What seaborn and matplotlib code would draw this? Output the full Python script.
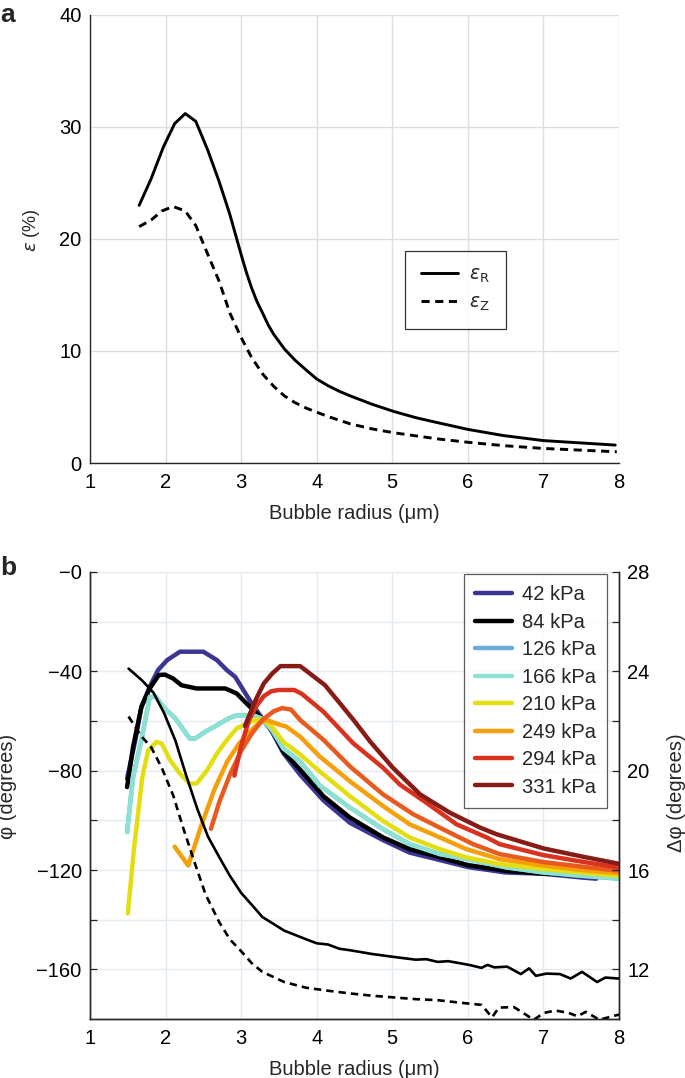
import seaborn as sns
import matplotlib.pyplot as plt

# ---- panel a : strain vs bubble radius ----
radius_r = [1.65, 1.81, 1.97, 2.12, 2.26, 2.40, 2.56, 2.71, 2.85, 3.0, 3.07, 3.14, 3.21, 3.29, 3.36,
            3.43, 3.57, 3.71, 3.86, 4.0, 4.15, 4.3, 4.44, 4.73, 5.02, 5.31, 5.6, 6.0, 6.47, 7.0, 7.95]
eps_r = [23.0, 25.4, 28.2, 30.3, 31.2, 30.5, 27.9, 25.1, 22.2, 18.6, 17.0, 15.6, 14.4, 13.3, 12.3,
         11.5, 10.2, 9.2, 8.3, 7.5, 6.9, 6.4, 6.0, 5.25, 4.6, 4.05, 3.6, 3.0, 2.45, 2.0, 1.6]
radius_z = [1.65, 1.81, 1.95, 2.10, 2.26, 2.40, 2.56, 2.71, 2.85, 3.0, 3.14, 3.29, 3.43, 3.57, 3.71,
            3.86, 4.15, 4.44, 4.73, 5.02, 5.6, 6.0, 6.47, 7.0, 7.97]
eps_z = [21.1, 21.7, 22.5, 22.9, 22.5, 21.2, 18.6, 16.2, 13.4, 11.2, 9.4, 7.9, 6.85, 6.0, 5.4,
         4.9, 4.15, 3.5, 3.05, 2.7, 2.15, 1.85, 1.55, 1.3, 1.0]

# ---- panel b : phase vs bubble radius, one curve per pressure ----
r_42 = [1.49, 1.60, 1.68, 1.79, 1.90, 2.02, 2.19, 2.50, 2.68, 2.81, 2.92, 3.03, 3.14, 3.25, 3.41,
        3.56, 3.78, 4.09, 4.44, 4.88, 5.23, 5.63, 6.0, 6.5, 7.0, 7.5, 7.7]
phi_42 = [-83.2, -67.7, -54.3, -46.2, -39.5, -35.5, -32.1, -32.1, -35.5, -39.5, -42.2, -47.6, -53.0,
          -57.7, -64.5, -73.0, -81.6, -92.0, -101.0, -108.0, -113.0, -116.0, -118.8, -121.0, -121.5,
          -123.0, -123.5]
r_84 = [1.49, 1.57, 1.68, 1.79, 1.91, 1.99, 2.10, 2.21, 2.41, 2.79, 2.94, 3.05, 3.16, 3.27, 3.41,
        3.56, 3.78, 4.09, 4.44, 4.88, 5.23, 5.63, 6.0, 6.5, 7.0, 7.5, 7.7]
phi_84 = [-86.6, -70.4, -54.3, -46.9, -41.5, -41.3, -42.9, -45.6, -46.9, -46.9, -48.9, -52.3, -55.6,
          -59.0, -63.7, -72.4, -79.6, -90.3, -98.9, -106.9, -111.6, -114.9, -118.0, -120.3, -121.5,
          -122.0, -122.5]
r_166 = [1.49, 1.57, 1.68, 1.79, 1.87, 1.99, 2.13, 2.24, 2.32, 2.39, 2.52, 2.68, 2.83, 2.94, 3.16,
         3.27, 3.41, 3.56, 3.78, 4.04, 4.44, 4.88, 5.23, 5.63, 5.98, 6.5, 7.0, 7.5, 8.0]
phi_166 = [-104.7, -82.5, -67.7, -50.3, -50.3, -55.0, -59.0, -63.7, -67.1, -67.1, -64.4, -61.7, -59.0,
           -57.7, -57.7, -59.0, -63.7, -71.1, -76.3, -86.0, -94.9, -103.6, -109.6, -113.6, -115.6,
           -118.9, -121.0, -122.3, -123.5]
# 126 kPa lies under the 166 kPa curve in the figure
r_126 = r_166
phi_126 = phi_166
r_210 = [1.50, 1.58, 1.69, 1.77, 1.88, 1.95, 2.06, 2.19, 2.32, 2.41, 2.55, 2.68, 2.81, 2.94, 3.08,
         3.21, 3.30, 3.41, 3.56, 3.78, 4.04, 4.44, 4.88, 5.23, 5.63, 5.98, 6.42, 7.0, 7.5, 8.0]
phi_210 = [-137.5, -112.0, -83.0, -71.8, -68.4, -69.1, -75.8, -81.2, -85.2, -85.2, -79.8, -73.1, -67.7,
           -63.0, -61.0, -59.4, -59.5, -62.4, -68.4, -73.5, -80.3, -90.3, -100.3, -106.9, -111.6,
           -114.9, -117.6, -119.6, -121.0, -122.3]
r_249 = [2.12, 2.30, 2.47, 2.65, 2.82, 2.97, 3.11, 3.23, 3.34, 3.46, 3.60, 3.78, 4.04, 4.44, 4.88,
         5.23, 5.63, 5.98, 6.42, 7.0, 7.5, 8.0]
phi_249 = [-110.6, -118.2, -102.3, -87.2, -76.1, -69.2, -64.4, -61.0, -59.6, -61.0, -62.3, -66.3, -74.3,
           -84.3, -94.3, -101.6, -106.9, -111.6, -115.6, -118.2, -120.0, -121.3]
# extra orange-red curve without a legend entry
r_extra = [2.60, 2.71, 2.85, 3.0, 3.14, 3.28, 3.43, 3.54, 3.66, 3.78, 4.09, 4.44, 4.88, 5.28, 5.67,
           6.07, 6.42, 7.0, 7.5, 8.0]
phi_extra = [-103.4, -92.7, -81.7, -72.0, -65.1, -59.6, -56.1, -54.8, -55.4, -59.6, -67.6, -78.3, -89.6,
             -97.6, -103.6, -109.6, -113.6, -116.8, -118.6, -120.3]
r_294 = [2.91, 3.0, 3.1, 3.2, 3.3, 3.4, 3.5, 3.7, 3.8, 4.09, 4.48, 4.88, 5.10, 5.45, 5.85, 6.25,
         6.42, 7.0, 7.5, 8.0]
phi_294 = [-82.0, -70.0, -60.0, -54.0, -50.0, -48.0, -47.5, -47.5, -49.0, -56.3, -68.9, -78.9, -85.6,
           -92.9, -101.6, -106.9, -109.6, -114.0, -116.6, -119.0]
r_331 = [3.05, 3.19, 3.30, 3.41, 3.52, 3.78, 3.91, 4.11, 4.31, 4.49, 4.71, 5.01, 5.37, 5.76, 6.16,
         6.38, 7.0, 7.5, 8.0]
phi_331 = [-62.0, -51.6, -44.9, -40.9, -37.9, -37.9, -40.9, -45.6, -53.0, -59.7, -68.4, -78.9, -89.6,
           -96.9, -102.9, -105.6, -111.3, -114.5, -117.5]

# delta phi (right axis)
r_dphi = [1.51, 1.69, 1.84, 1.98, 2.13, 2.27, 2.42, 2.56, 2.71, 2.85, 3.0, 3.14, 3.28, 3.57, 3.86,
          4.0, 4.15, 4.30, 4.44, 4.73, 5.02, 5.31, 5.45, 5.6, 5.74, 5.89, 6.03, 6.18, 6.26, 6.35,
          6.52, 6.70, 6.81, 6.90, 7.04, 7.22, 7.36, 7.51, 7.71, 7.82, 8.0]
dphi_solid = [24.11, 23.63, 23.14, 22.32, 21.21, 19.83, 18.46, 17.35, 16.52, 15.77, 15.08, 14.60, 14.11,
              13.56, 13.21, 13.05, 13.0, 12.83, 12.77, 12.62, 12.50, 12.39, 12.41, 12.30, 12.33, 12.25,
              12.17, 12.06, 12.18, 12.08, 12.11, 11.81, 12.04, 11.74, 11.83, 11.81, 11.63, 11.90,
              11.49, 11.67, 11.63]
r_dphi2 = [1.51, 1.67, 1.81, 1.95, 2.10, 2.24, 2.39, 2.53, 2.71, 2.85, 3.0, 3.14, 3.28, 3.57, 3.86,
           4.15, 4.44, 4.73, 5.02, 5.31, 5.6, 5.89, 6.18, 6.32, 6.41, 6.61, 6.73, 6.87, 7.01, 7.16,
           7.33, 7.45, 7.56, 7.74, 7.91, 8.0]
dphi_dashed = [22.18, 21.42, 20.94, 20.11, 19.01, 17.63, 16.25, 15.01, 13.9, 13.21, 12.73, 12.25, 11.9,
               11.49, 11.26, 11.14, 11.03, 10.94, 10.87, 10.80, 10.76, 10.66, 10.57, 10.07, 10.46,
               10.48, 10.25, 9.97, 10.25, 10.34, 10.25, 10.11, 10.29, 9.97, 10.11, 10.18]

series = [
    ('42 kPa', r_42, phi_42, '#3b3594'),
    ('84 kPa', r_84, phi_84, '#000000'),
    ('126 kPa', r_126, phi_126, '#68acd8'),
    ('166 kPa', r_166, phi_166, '#8ce2d2'),
    ('210 kPa', r_210, phi_210, '#e4de10'),
    ('249 kPa', r_249, phi_249, '#f5a00a'),
    ('_extra', r_extra, phi_extra, '#e85a1e'),
    ('294 kPa', r_294, phi_294, '#d9321e'),
    ('331 kPa', r_331, phi_331, '#871c17'),
]

phi_ticks = [0, -20, -40, -60, -80, -100, -120, -140, -160]
phi_ticklabels = ['\u22120', '', '\u221240', '', '\u221280', '', '\u2212120', '', '\u2212160']
dphi_ticks = [12, 14, 16, 18, 20, 22, 24, 26, 28]
dphi_ticklabels = ['12', '', '16', '', '20', '', '24', '', '28']

sns.set_style('white')
plt.rcParams['font.family'] = ['Liberation Sans', 'DejaVu Sans']
plt.rcParams['mathtext.fontset'] = 'dejavusans'

fig = plt.figure(figsize=(6.85, 10.78), dpi=100)
ax1 = fig.add_axes([0.1314, 0.5705, 0.7723, 0.4156])
ax2 = fig.add_axes([0.1314, 0.0547, 0.7723, 0.4147])

spine_c = '#262626'
tick_fs = 14.5
dash = [2.8, 1.9]

# panel a
sns.lineplot(x=radius_r, y=eps_r, ax=ax1, color='black', lw=2.1, sort=False, estimator=None,
             label=r'$\varepsilon_{\mathrm{R}}$')
sns.lineplot(x=radius_z, y=eps_z, ax=ax1, color='black', lw=2.1, sort=False, estimator=None,
             label=r'$\varepsilon_{\mathrm{Z}}$')
ax1.lines[1].set_dashes(dash)
ax1.set_xlim(1, 8)
ax1.set_ylim(0, 40)
ax1.set_xticks(range(1, 9))
ax1.set_yticks([0, 10, 20, 30, 40])
ax1.grid(True, color='#dddddd', lw=1.0)
ax1.set_axisbelow(True)
for s in ['top', 'right']:
    ax1.spines[s].set_visible(False)
ax1.set_xlabel('Bubble radius (\u03bcm)', fontsize=tick_fs, labelpad=9)
ax1.set_ylabel(r'$\varepsilon$ (%)', fontsize=13)
ax1.yaxis.set_label_coords(-0.09, 0.52)
leg1 = ax1.legend(loc='center', bbox_to_anchor=(5.835, 15.45), bbox_transform=ax1.transData,
                  fontsize=13.5, handlelength=2.0, frameon=True, fancybox=False, borderpad=0.85,
                  labelspacing=0.5, handletextpad=0.6)
leg1.get_frame().set_edgecolor('black')
leg1.get_frame().set_linewidth(0.9)
leg1.get_lines()[1].set_dashes(dash)

# panel b
for name, rx, py, col in series:
    sns.lineplot(x=rx, y=py, ax=ax2, color=col, lw=3.2, sort=False, estimator=None, label=name)
ax2.set_xlim(1, 8)
ax2.set_ylim(-180, 0)
ax2.set_xticks(range(1, 9))
ax2.set_yticks(phi_ticks)
ax2.set_yticklabels(phi_ticklabels)
ax2.grid(True, color='#e4eaf1', lw=1.0)
ax2.set_axisbelow(True)
ax2.spines['top'].set_visible(False)
ax2.set_xlabel('Bubble radius (\u03bcm)', fontsize=tick_fs, labelpad=9)
ax2.set_ylabel('\u03c6 (degrees)', fontsize=tick_fs)
ax2.yaxis.set_label_coords(-0.138, 0.52)
leg2 = ax2.legend(loc='upper right', bbox_to_anchor=(0.977, 0.995), fontsize=tick_fs,
                  handlelength=1.8, frameon=True, fancybox=False, borderpad=0.55,
                  labelspacing=0.42, handletextpad=0.5, borderaxespad=0)
leg2.get_frame().set_edgecolor('#333333')
leg2.get_frame().set_linewidth(0.9)
leg2.set_zorder(10)

ax2r = ax2.twinx()
sns.lineplot(x=r_dphi, y=dphi_solid, ax=ax2r, color='black', lw=1.9, sort=False, estimator=None)
sns.lineplot(x=r_dphi2, y=dphi_dashed, ax=ax2r, color='black', lw=1.9, sort=False, estimator=None)
ax2r.lines[1].set_dashes(dash)
ax2r.set_ylim(10, 28)
ax2r.set_yticks(dphi_ticks)
ax2r.set_yticklabels(dphi_ticklabels)
ax2r.spines['top'].set_visible(False)
ax2r.set_ylabel('\u0394\u03c6 (degrees)', fontsize=tick_fs, rotation=90)
ax2r.yaxis.set_label_coords(1.091, 0.506)
ax2r.set_xlim(1, 8)

for ax in (ax1, ax2, ax2r):
    for s in ax.spines.values():
        s.set_color(spine_c)
        s.set_linewidth(1.0)
    ax.tick_params(direction='in', length=5, width=0.9, colors=spine_c, labelcolor='black',
                   labelsize=tick_fs)
    ax.tick_params(axis='x', pad=7)
    ax.tick_params(axis='y', pad=6)

fig.text(0.0, 0.997, 'a', fontsize=19, fontweight='bold', va='top', ha='left')
fig.text(0.0, 0.4845, 'b', fontsize=19, fontweight='bold', va='top', ha='left')

fig.savefig('out.png', dpi=100)
